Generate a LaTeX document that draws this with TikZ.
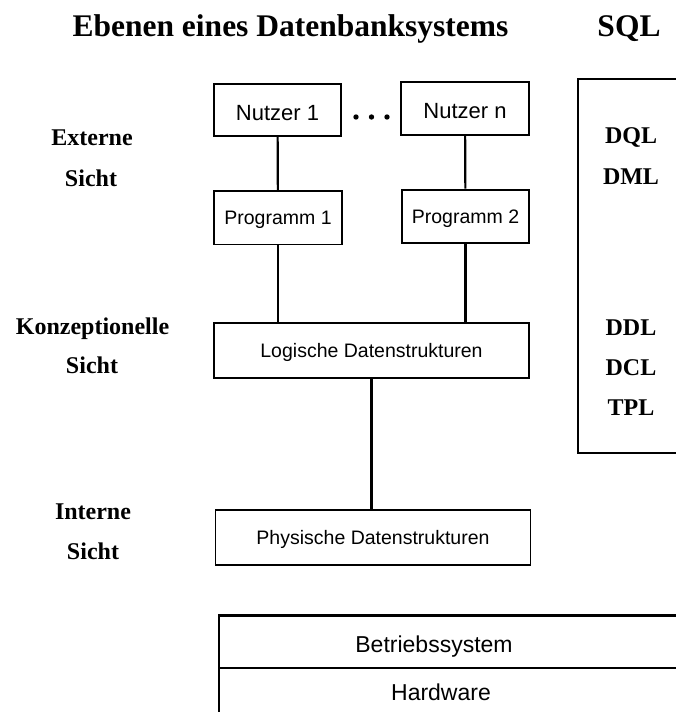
\documentclass[tikz,border=0pt]{standalone}
\usepackage{fontspec}
\setmainfont{Liberation Serif}
\setsansfont{Liberation Sans}
\begin{document}
\begin{tikzpicture}[x=1pt,y=-1pt,
  box/.style={draw,line width=1.9pt,inner sep=0pt,font=\sffamily\fontsize{19.5}{22}\selectfont,text height=16pt,text depth=2pt},
  ubox/.style={box,font=\sffamily\fontsize{22}{24}\selectfont,text height=20pt,text depth=0pt},
  lbl/.style={font=\bfseries\fontsize{24}{26}\selectfont,anchor=base,inner sep=0pt},
  ttl/.style={font=\bfseries\fontsize{31.5}{33}\selectfont,anchor=base,inner sep=0pt},
  plain/.style={font=\sffamily\fontsize{23}{25}\selectfont,anchor=base,inner sep=0pt},
  conn/.style={line width=2.2pt},
  frame/.style={line width=2.6pt}]
\useasboundingbox (0,0) rectangle (676,712);
\clip (0,0) rectangle (676,712);
% titles
\node[ttl] (title) at (290.5,36) {Ebenen eines Datenbanksystems};
\node[ttl] (sql) at (629,36) {SQL};
% left labels
\node[lbl] (ext) at (92,145.4) {Externe};
\node[lbl] (exts) at (91,186.5) {Sicht};
\node[lbl] (kon) at (92.5,334) {Konzeptionelle};
\node[lbl] (kons) at (92,373) {Sicht};
\node[lbl] (int) at (93,519.4) {Interne};
\node[lbl] (ints) at (93,559.5) {Sicht};
% boxes
\node[ubox,minimum width=127pt,minimum height=51.6pt] (n1) at (277.5,110.1) {Nutzer 1};
\node[ubox,minimum width=128pt,minimum height=52.7pt] (nn) at (465,108.5) {Nutzer n};
\node[box,minimum width=128pt,minimum height=53.7pt] (p1) at (278,217.6) {Programm 1};
\node[box,minimum width=127pt,minimum height=53.7pt] (p2) at (465.5,216.5) {Programm 2};
\node[box,minimum width=315pt,minimum height=54.8pt] (log) at (371.5,350.8) {Logische Datenstrukturen};
\node[box,minimum width=315pt,minimum height=54.8pt] (phys) at (373,537.3) {Physische Datenstrukturen};
% dots
\fill (356,117) circle (2.7pt) (371.5,117) circle (2.7pt) (387,117) circle (2.7pt);
% connectors
\draw[conn] (n1) -- (p1);
\draw[conn] (nn) -- (p2);
\draw[conn] (p1.south) -- (p1.south |- log.north);
\draw[conn] (p2.south) -- (p2.south |- log.north);
\draw[conn] (log.south) -- (log.south |- phys.north);
% SQL bracket
\draw[line width=2.2pt] (690,79) -- (578,79) -- (578,453) -- (690,453);
\node[lbl] (dql) at (631,143.3) {DQL};
\node[lbl] (dml) at (631,184.4) {DML};
\node[lbl] (ddl) at (631,335) {DDL};
\node[lbl] (dcl) at (631,375) {DCL};
\node[lbl] (tpl) at (631,415) {TPL};
% OS / hardware
\draw[frame] (690,615.3) -- (219,615.3) -- (219,720);
\draw[frame] (219,668) -- (690,668);
\node[plain] (bs) at (434,652) {Betriebssystem};
\node[plain] (hw) at (441,700.6) {Hardware};
\end{tikzpicture}
\end{document}
